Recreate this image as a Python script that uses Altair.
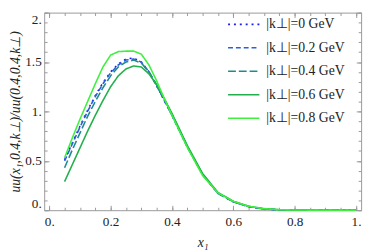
import altair as alt
import pandas as pd

x_vals = [0.05, 0.075, 0.1, 0.125, 0.15, 0.175, 0.2, 0.225, 0.25, 0.275, 0.3, 0.325,
          0.35, 0.375, 0.4, 0.45, 0.5, 0.55, 0.6, 0.65, 0.7, 0.75, 0.8, 0.9, 1.0]

k00 = [0.51, 0.68, 0.85, 1.01, 1.16, 1.29, 1.40, 1.48, 1.53, 1.54, 1.50, 1.40,
       1.26, 1.11, 0.96, 0.64, 0.36, 0.17, 0.085, 0.035, 0.012, 0.004, 0.001, 0.0, 0.0]
k02 = [0.50, 0.67, 0.84, 1.00, 1.15, 1.28, 1.39, 1.47, 1.52, 1.53, 1.50, 1.40,
       1.26, 1.11, 0.96, 0.64, 0.36, 0.17, 0.085, 0.035, 0.012, 0.004, 0.001, 0.0, 0.0]
k04 = [0.43, 0.61, 0.78, 0.95, 1.10, 1.24, 1.36, 1.45, 1.50, 1.52, 1.49, 1.40,
       1.27, 1.12, 0.97, 0.645, 0.36, 0.17, 0.087, 0.037, 0.013, 0.004, 0.001, 0.0, 0.0]
k06 = [0.29, 0.46, 0.63, 0.80, 0.96, 1.11, 1.25, 1.36, 1.43, 1.46, 1.45, 1.38,
       1.27, 1.13, 0.98, 0.655, 0.37, 0.18, 0.09, 0.04, 0.015, 0.005, 0.001, 0.0, 0.0]
k08 = [0.53, 0.73, 0.92, 1.10, 1.28, 1.45, 1.57, 1.605, 1.61, 1.61, 1.58, 1.47,
       1.31, 1.13, 0.96, 0.635, 0.35, 0.175, 0.09, 0.04, 0.015, 0.005, 0.002, 0.0, 0.0]

series_names = ["|k⊥|=0 GeV", "|k⊥|=0.2 GeV", "|k⊥|=0.4 GeV", "|k⊥|=0.6 GeV", "|k⊥|=0.8 GeV"]
series_vals = [k00, k02, k04, k06, k08]
colors = ["#1f1ff0", "#2a5fd8", "#1e8c8c", "#22b04c", "#3ff03f"]
dashes = [[2, 4], [5, 3], [8, 3], [1, 0], [1, 0]]

x_major = [0, 0.2, 0.4, 0.6, 0.8, 1.0]
x_minor = [round(0.05 * i, 2) for i in range(21)]
y_major = [0, 0.5, 1.0, 1.5, 2.0]
y_minor = [round(0.1 * i, 1) for i in range(21)]

rows = []
for name, vals in zip(series_names, series_vals):
    for xv, yv in zip(x_vals, vals):
        rows.append({"x": xv, "y": yv, "series": name})
df = pd.DataFrame(rows)

FONT = "Liberation Serif, Times New Roman, serif"
GREY = "#9a9a9a"
xscale = alt.Scale(domain=[-0.0165, 1.0165], nice=False, zero=False)
yscale = alt.Scale(domain=[0, 2], nice=False, zero=False)
lab_expr = "datum.value % 1 == 0 ? format(datum.value, 'd') + '.' : format(datum.value, '.1f')"

def ax(orient, values, size, labels=False, title=None, **kw):
    args = dict(orient=orient, values=values, tickSize=size, offset=-size, domain=False,
                grid=False, ticks=True, tickColor=GREY, tickWidth=1, labels=labels)
    if labels:
        args.update(labelExpr=lab_expr, labelFont=FONT, labelFontSize=13.5, labelColor="#222")
    if title is not None:
        args.update(title=title, titleFont=FONT, titleFontSize=14, titleFontStyle="italic",
                    titleFontWeight="normal", titleColor="#222")
    else:
        args.update(title=None)
    args.update(kw)
    return alt.Axis(**args)

leg = alt.Legend(title=None, orient="none", legendX=187, legendY=-5, symbolType="stroke",
                 symbolSize=1024, symbolStrokeWidth=1.6, labelFont=FONT, labelFontSize=14,
                 labelColor="#222", padding=0, rowPadding=0, labelOffset=6)

lines = alt.Chart(df).mark_line(strokeWidth=1.6).encode(
    x=alt.X("x:Q", scale=xscale,
            axis=ax("bottom", x_major, 5, labels=True, title="x₁", labelPadding=5, titlePadding=8)),
    y=alt.Y("y:Q", scale=yscale,
            axis=ax("left", y_major, 5, labels=True, title="uu(x₁,0.4,k⊥)/uu(0.4,0.4,k⊥)",
                    labelPadding=3, titlePadding=2, labelFlush=True)),
    color=alt.Color("series:N", scale=alt.Scale(domain=series_names, range=colors), legend=leg),
    strokeDash=alt.StrokeDash("series:N", scale=alt.Scale(domain=series_names, range=dashes), legend=leg),
)

def ghost(xa, ya):
    return alt.Chart(df).mark_point(opacity=0).encode(
        x=alt.X("x:Q", scale=xscale, axis=xa),
        y=alt.Y("y:Q", scale=yscale, axis=ya),
    )

chart = alt.layer(
    lines,
    ghost(ax("bottom", x_minor, 3), ax("left", y_minor, 3)),
    ghost(ax("top", x_major, 5), ax("right", y_major, 5)),
    ghost(ax("top", x_minor, 3), ax("right", y_minor, 3)),
).resolve_axis(x="independent", y="independent").properties(
    width=324, height=202,
    autosize=alt.AutoSizeParams(type="none"),
    padding={"left": 37, "top": 2, "right": 5, "bottom": 40},
).configure_view(stroke=GREY, strokeWidth=1)

chart.save("out.html", embed_options={"renderer": "svg", "actions": False})
